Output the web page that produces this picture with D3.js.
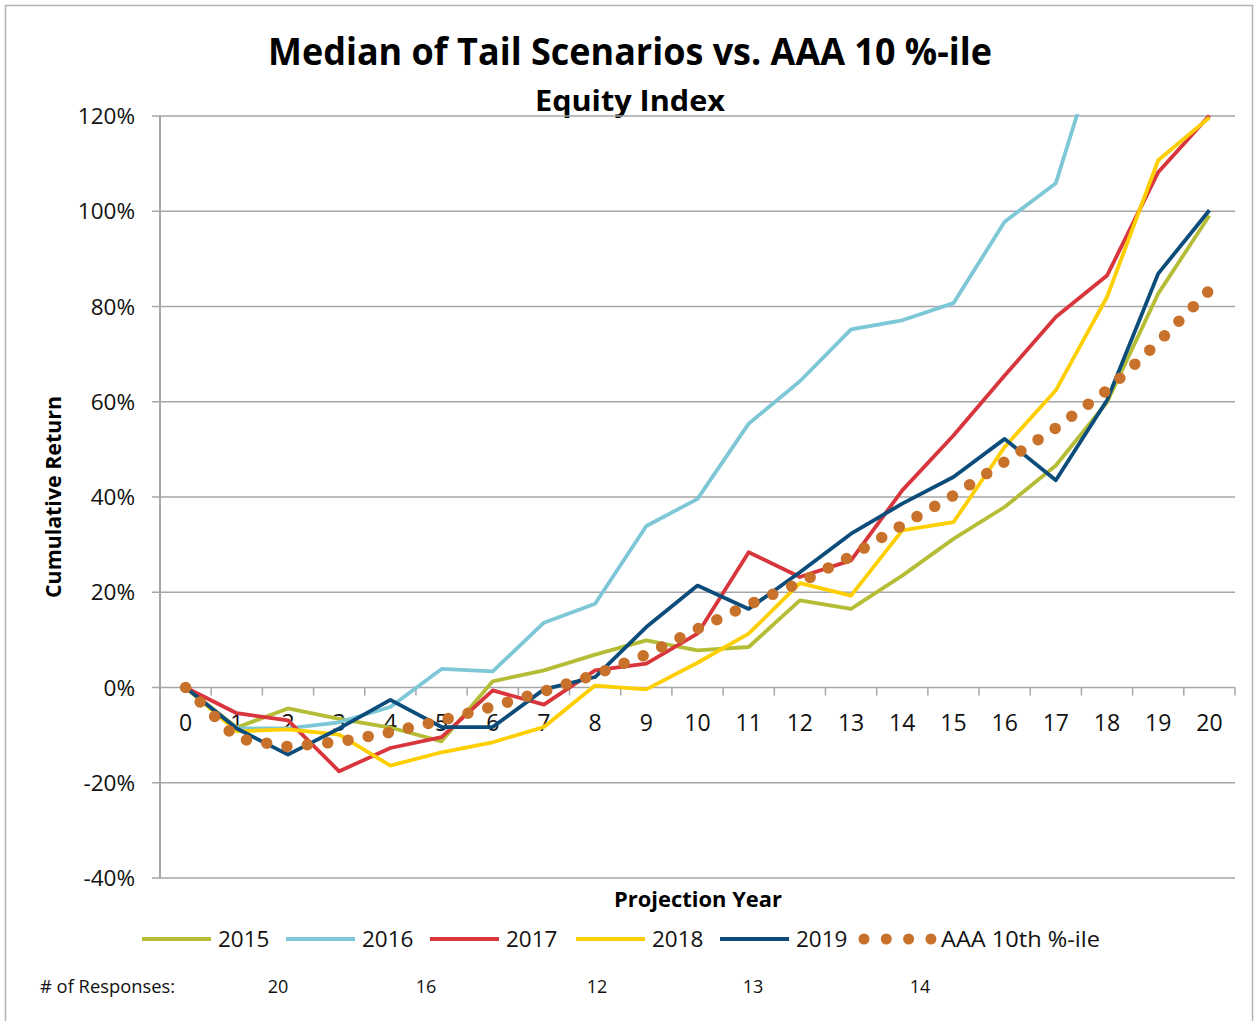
<!DOCTYPE html>
<html>
<head>
<meta charset="utf-8">
<script src="https://cdn.jsdelivr.net/npm/d3@7"></script>
<style>
  body { margin: 0; background: #fff; }
  svg { display: block; font-family: 'Open Sans', 'Noto Sans', sans-serif; }
</style>
</head>
<body>
<svg width="1254" height="1021"></svg>
<script>
const years = [0, 1, 2, 3, 4, 5, 6, 7, 8, 9, 10, 11, 12, 13, 14, 15, 16, 17, 18, 19, 20];

const s2015 = [0, -8.4, -4.4, -6.6, -8.4, -11.3, 1.3, 3.6, 6.9, 9.9, 7.8, 8.5, 18.3, 16.5, 23.5, 31.2, 37.9, 46.6, 59.9, 82.7, 99.1];
const s2016 = [0, -8.6, -8.6, -7.3, -4.1, 3.9, 3.4, 13.6, 17.6, 33.9, 39.6, 55.4, 64.3, 75.2, 77.1, 80.7, 97.8, 105.9, 140.5, 160, 185];
const s2017 = [0, -5.4, -6.9, -17.6, -12.7, -10.4, -0.6, -3.6, 3.6, 5.0, 11.3, 28.4, 23.2, 26.7, 41.4, 52.9, 65.5, 77.8, 86.5, 108.2, 120.1];
const s2018 = [0, -9.2, -8.8, -9.9, -16.4, -13.6, -11.5, -8.3, 0.4, -0.4, 5.2, 11.3, 21.9, 19.3, 33.0, 34.7, 50.5, 62.4, 82.0, 110.7, 119.7];
const s2019 = [0, -8.6, -14.1, -8.6, -2.6, -8.3, -8.3, -0.4, 2.2, 12.7, 21.4, 16.5, 24.2, 32.3, 38.6, 44.2, 52.2, 43.5, 60.3, 86.9, 100.2];
const aaa10 = [0, -10.7, -12.4, -11.4, -9.4, -6.9, -4.0, -0.8, 2.7, 6.9, 12.3, 17.4, 22.0, 27.6, 34.1, 40.3, 47.4, 54.5, 62.4, 72.5, 83.4];

const seriesNames = ['2015', '2016', '2017', '2018', '2019', 'AAA 10th %-ile'];
const seriesColors = ['#b5bd36', '#7dc7d7', '#d8353c', '#fdcf00', '#0b4c7a', '#c8712b'];
const yTicks = [-40, -20, 0, 20, 40, 60, 80, 100, 120];

const responseLabel = '# of Responses:';
const responseCounts = [20, 16, 12, 13, 14];

const svg = d3.select('svg');
const plotLeft = 160, plotRight = 1235, plotTop = 116, plotBottom = 878;
const grey = '#a6a6a6';

const x = d3.scalePoint().domain(years).range([plotLeft, plotRight]).padding(0.5);
const y = d3.scaleLinear().domain([-40, 120]).range([plotBottom, plotTop]);

// outer chart border
svg.append('rect')
    .attr('x', 5.5).attr('y', 5.5)
    .attr('width', 1247).attr('height', 1030)
    .attr('fill', 'none')
    .attr('stroke', '#b3b3b3')
    .attr('stroke-width', 1.5);

// titles
svg.append('text')
    .attr('x', 630).attr('y', 65)
    .attr('text-anchor', 'middle')
    .attr('font-size', 37).attr('font-weight', 'bold')
    .attr('textLength', 724).attr('lengthAdjust', 'spacingAndGlyphs')
    .text('Median of Tail Scenarios vs. AAA 10 %-ile');

svg.append('text')
    .attr('x', 630).attr('y', 111)
    .attr('text-anchor', 'middle')
    .attr('font-size', 29).attr('font-weight', 'bold')
    .attr('textLength', 190).attr('lengthAdjust', 'spacingAndGlyphs')
    .text('Equity Index');

// gridlines
svg.append('g')
    .selectAll('line')
    .data(yTicks.filter(d => d !== 0))
    .join('line')
    .attr('x1', plotLeft - 8).attr('x2', plotRight)
    .attr('y1', d => y(d)).attr('y2', d => y(d))
    .attr('stroke', grey).attr('stroke-width', 1.5);

// y axis line
svg.append('line')
    .attr('x1', plotLeft).attr('x2', plotLeft)
    .attr('y1', plotTop).attr('y2', plotBottom)
    .attr('stroke', grey).attr('stroke-width', 2);

// y tick labels
svg.append('g')
    .selectAll('text')
    .data(yTicks)
    .join('text')
    .attr('x', 135).attr('y', d => y(d))
    .attr('dy', '0.36em')
    .attr('text-anchor', 'end')
    .attr('font-size', 22.5)
    .attr('fill', '#111')
    .text(d => d + '%');

// y axis title
svg.append('text')
    .attr('transform', 'translate(61,' + (plotTop + plotBottom) / 2 + ') rotate(-90)')
    .attr('text-anchor', 'middle')
    .attr('font-size', 21).attr('font-weight', 'bold')
    .attr('textLength', 202).attr('lengthAdjust', 'spacingAndGlyphs')
    .text('Cumulative Return');

// x axis on the zero line, ticks between categories
const step = x.step();
svg.append('line')
    .attr('x1', plotLeft - 8).attr('x2', plotRight)
    .attr('y1', y(0)).attr('y2', y(0))
    .attr('stroke', grey).attr('stroke-width', 1.5);

svg.append('g')
    .selectAll('line')
    .data(years.concat([21]))
    .join('line')
    .attr('x1', d => plotLeft + d * step).attr('x2', d => plotLeft + d * step)
    .attr('y1', y(0)).attr('y2', y(0) + 8)
    .attr('stroke', grey).attr('stroke-width', 1.5);

svg.append('g')
    .selectAll('text')
    .data(years)
    .join('text')
    .attr('x', d => x(d)).attr('y', y(0) + 43)
    .attr('text-anchor', 'middle')
    .attr('font-size', 23)
    .attr('fill', '#111')
    .text(d => d);

svg.append('text')
    .attr('x', 698).attr('y', 907)
    .attr('text-anchor', 'middle')
    .attr('font-size', 21).attr('font-weight', 'bold')
    .attr('textLength', 168).attr('lengthAdjust', 'spacingAndGlyphs')
    .text('Projection Year');

// series
svg.append('clipPath').attr('id', 'plot')
    .append('rect')
    .attr('x', plotLeft).attr('y', plotTop - 2)
    .attr('width', plotRight - plotLeft).attr('height', plotBottom - plotTop + 2);

const line = d3.line().x((d, i) => x(years[i])).y(d => y(d));
const allSeries = [s2015, s2016, s2017, s2018, s2019, aaa10];

const plot = svg.append('g').attr('clip-path', 'url(#plot)');
plot.selectAll('path')
    .data(allSeries)
    .join('path')
    .attr('d', line)
    .attr('fill', 'none')
    .attr('stroke', (d, i) => seriesColors[i])
    .attr('stroke-width', (d, i) => i === 5 ? 11.5 : 3.8)
    .attr('stroke-linejoin', 'round')
    .attr('stroke-linecap', (d, i) => i === 5 ? 'round' : 'butt')
    .attr('stroke-dasharray', (d, i) => i === 5 ? '0 20.5' : null);

// legend
const legendX = [142, 286, 430, 576, 720, 864];
const legend = svg.append('g')
    .selectAll('g')
    .data(seriesNames)
    .join('g')
    .attr('transform', (d, i) => 'translate(' + legendX[i] + ',939)');

legend.append('line')
    .attr('x1', 0).attr('x2', (d, i) => i === 5 ? 67 : 69)
    .attr('stroke', (d, i) => seriesColors[i])
    .attr('stroke-width', (d, i) => i === 5 ? 11 : 4)
    .attr('stroke-linecap', (d, i) => i === 5 ? 'round' : 'butt')
    .attr('stroke-dasharray', (d, i) => i === 5 ? '0 22.3' : null);

legend.append('text')
    .attr('x', (d, i) => i === 5 ? 77 : 76)
    .attr('dy', '0.36em')
    .attr('font-size', 22.5)
    .attr('fill', '#111')
    .attr('textLength', (d, i) => i === 5 ? 159 : null)
    .attr('lengthAdjust', 'spacingAndGlyphs')
    .text(d => d);

// responses row
svg.append('text')
    .attr('x', 40).attr('y', 993)
    .attr('font-size', 18)
    .attr('fill', '#111')
    .attr('textLength', 135).attr('lengthAdjust', 'spacingAndGlyphs')
    .text(responseLabel);

const responseX = [278, 426, 597, 753, 920];
svg.append('g')
    .selectAll('text')
    .data(responseCounts)
    .join('text')
    .attr('x', (d, i) => responseX[i]).attr('y', 993)
    .attr('text-anchor', 'middle')
    .attr('font-size', 18)
    .attr('fill', '#111')
    .text(d => d);
</script>
</body>
</html>
